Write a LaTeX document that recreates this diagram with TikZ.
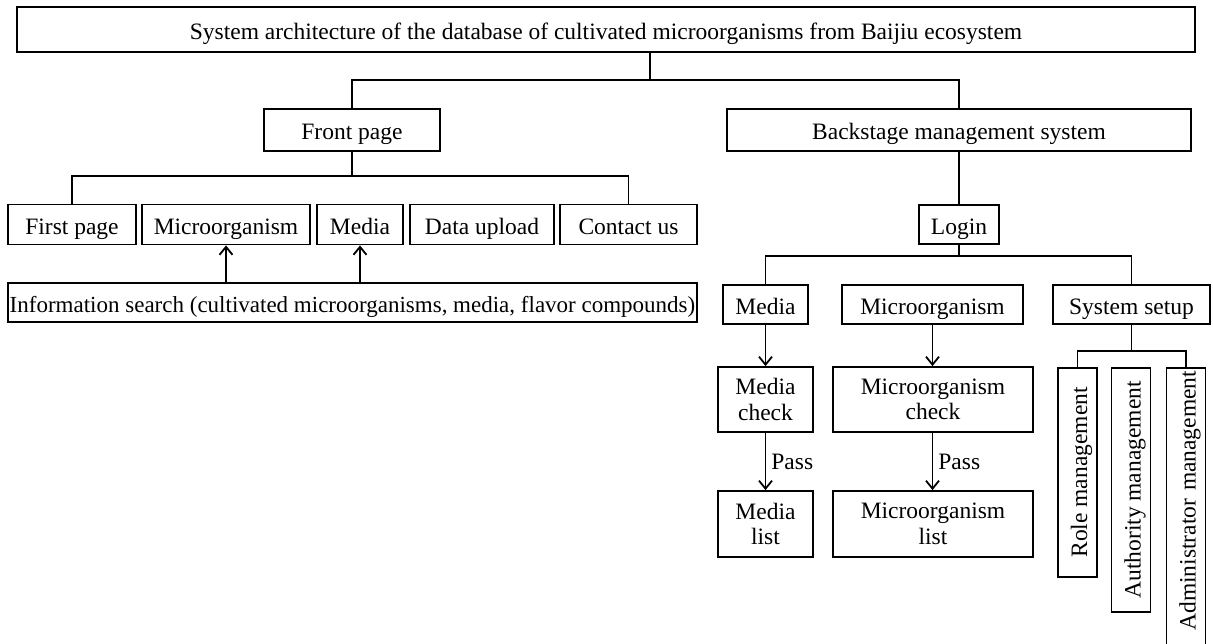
\documentclass[tikz,border=0pt]{standalone}
\usepackage{fontspec}
\setmainfont{Liberation Serif}
\usetikzlibrary{calc, arrows.meta}
\tikzstyle{box} = [draw, line width=1.8pt, inner sep=0pt, minimum height=40pt, align=center]
\tikzstyle{one} = [box, text height=24pt, text depth=5pt]
\tikzstyle{tall} = [one, rotate=90, anchor=east, minimum height=39pt]
\tikzstyle{link} = [line width=1.8pt]
\tikzstyle{arr} = [link, -{Straight Barb[length=8pt, width=13pt]}]

\begin{document}
\begin{tikzpicture}[x=1pt, y=-1pt, font=\fontsize{23.5pt}{25.5pt}\selectfont]
        \useasboundingbox (0,0) rectangle (1213,643);
        \node (title) [one, minimum width=1178pt, minimum height=45pt] at (606,29.5) {System architecture of the database of cultivated microorganisms from Baijiu ecosystem};
        \node (front) [one, minimum width=176pt, minimum height=42pt] at (352,130) {Front page};
        \node (back) [one, minimum width=464pt, minimum height=42pt] at (959,130) {Backstage management system};
        \node (first) [one, minimum width=128pt] at (72,224.5) {First page};
        \node (micro) [one, minimum width=168pt] at (226,224.5) {Microorganism};
        \node (media) [one, minimum width=86pt] at (360,224.5) {Media};
        \node (upload) [one, minimum width=144pt] at (482,224.5) {Data upload};
        \node (contact) [one, minimum width=137pt] at (628.5,224.5) {Contact us};
        \node (search) [one, minimum width=689pt, minimum height=39pt, font=\fontsize{23pt}{25pt}\selectfont] at (352.5,302.5) {Information search (cultivated microorganisms, media, flavor compounds)};
        \node (login) [one, minimum width=80pt, minimum height=39pt] at (959,224.5) {Login};
        \node (bmedia) [one, minimum width=85pt, minimum height=39pt] at (765.5,304.5) {Media};
        \node (bmicro) [one, minimum width=181pt, minimum height=39pt] at (932.5,304.5) {Microorganism};
        \node (setup) [one, minimum width=157pt, minimum height=39pt] at (1131.5,304.5) {System setup};
        \node (mcheck) [box, minimum width=95pt, minimum height=65pt] at (765.5,399.5) {Media\\check};
        \node (micheck) [box, minimum width=200pt, minimum height=65pt] at (933,399.5) {Microorganism\\check};
        \node (mlist) [box, minimum width=95pt, minimum height=66pt] at (765.5,524) {Media\\list};
        \node (milist) [box, minimum width=200pt, minimum height=66pt] at (933,524) {Microorganism\\list};
        \node (role) [tall, minimum width=209pt] at (1077.5,367) {Role management};
        \node (auth) [tall, minimum width=244pt] at (1131,367) {Authority management};
        \node (admin) [tall, text width=280pt, align=right, inner xsep=3pt] at (1186,367) {Administrator management};
        \coordinate (j1) at (650,80);
        \coordinate (j2) at (352,176);
        \coordinate (j3) at (959,256);
        \coordinate (j4) at (1131.5,351);
        \draw [link] (j1) -- (j1 |- title.south);
        \draw [link] (front.north) |- (j1) -| (back.north);
        \draw [link] (front.south) -- (j2);
        \draw [link] (first.north) |- (j2) -| (contact.north);
        \draw [arr] (search.north -| micro) -- (micro.south);
        \draw [arr] (search.north -| media) -- (media.south);
        \draw [link] (back.south) -- (login.north);
        \draw [link] (login.south) -- (j3);
        \draw [link] (bmedia.north) |- (j3) -| (setup.north);
        \draw [arr] (bmedia) -- (mcheck);
        \draw [arr] (bmicro.south) -- (bmicro.south |- micheck.north);
        \draw [arr] (mcheck) -- node [right, inner sep=5pt] (pass1) {Pass} (mlist);
        \draw [arr] (micheck.south -| bmicro) -- node [right, inner sep=5pt] (pass2) {Pass} (milist.north -| bmicro);
        \draw [link] (setup.south) -- (j4);
        \draw [link] (role.east) |- (j4) -| (admin.east);
    \end{tikzpicture}
\end{document}
